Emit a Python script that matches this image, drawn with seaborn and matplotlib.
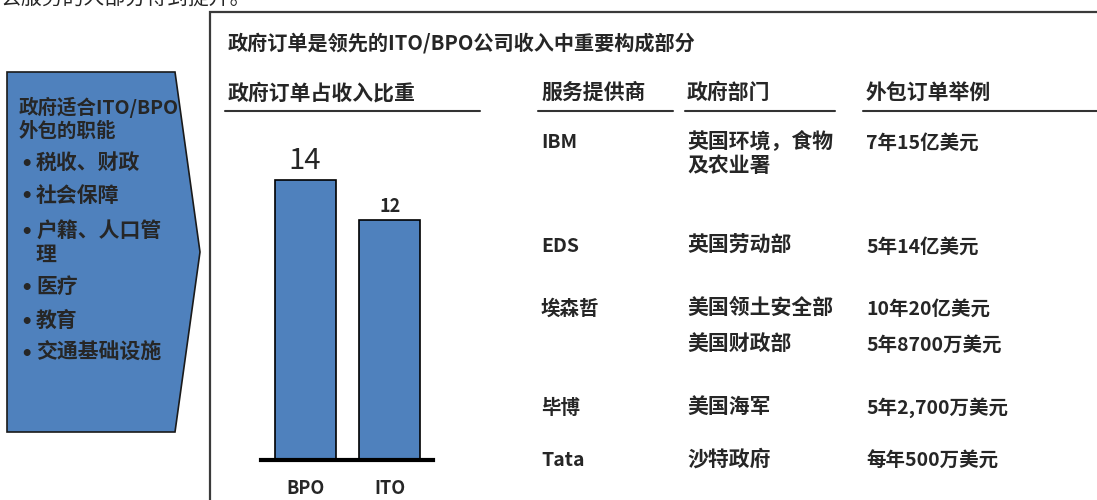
# -*- coding: utf-8 -*-
import numpy as np
import pandas as pd
import seaborn as sns
import matplotlib.pyplot as plt
from matplotlib.patches import Polygon

sns.set_style('white')
plt.rcParams['font.family'] = ['Noto Sans CJK SC', 'DejaVu Sans']

# data
categories = ['BPO', 'ITO']
share = [14, 12]

top_line = u'会服务的大部分得到提升。'
main_title = u'政府订单是领先的ITO/BPO公司收入中重要构成部分'
bar_title = u'政府订单占收入比重'
box_title = [u'政府适合ITO/BPO', u'外包的职能']
box_items = [u'税收、财政', u'社会保障', u'户籍、人口管\n理', u'医疗', u'教育', u'交通基础设施']

headers = [u'服务提供商', u'政府部门', u'外包订单举例']
providers = ['IBM', 'EDS', u'埃森哲', '', u'毕博', 'Tata']
depts = [u'英国环境，食物\n及农业署', u'英国劳动部', u'美国领土安全部', u'美国财政部', u'美国海军', u'沙特政府']
examples = [u'7年15亿美元', u'5年14亿美元', u'10年20亿美元', u'5年8700万美元', u'5年2,700万美元', u'每年500万美元']

blue = '#4F81BD'
dark = '#333333'

fig = plt.figure(figsize=(10.97, 5), dpi=100)

# background layer in pixel coords
bg = fig.add_axes([0, 0, 1, 1])
bg.set_xlim(0, 1097)
bg.set_ylim(500, 0)
bg.axis('off')

# line of the previous block, cut at the top edge as in the source slide
bg.text(0, -2, top_line, fontsize=15, va='center', ha='left', clip_on=False)

# left arrow box
pent = Polygon([(7, 72), (175, 72), (200, 252), (175, 432), (7, 432)],
               closed=True, facecolor=blue, edgecolor='#1a1a1a', lw=1.2)
bg.add_patch(pent)
bg.text(19, 107, box_title[0], fontsize=14, weight='bold', va='center')
bg.text(19, 131, box_title[1], fontsize=14, weight='bold', va='center')
item_y = [164, 197, 233, 288, 322, 354]
for y, item in zip(item_y, box_items):
    bg.text(20, y, u'•', fontsize=14, weight='bold', va='center', family='DejaVu Sans')
    bg.text(36, y - 12, item, fontsize=15, weight='bold', va='top', linespacing=1.1)

# right frame
bg.plot([210, 210, 1097], [500, 12, 12], color='#3a3a3a', lw=1.6, solid_joinstyle='miter')

bg.text(228, 43, main_title, fontsize=14.5, weight='bold', va='center')
bg.text(228, 93, bar_title, fontsize=15, weight='bold', va='center')
bg.plot([225, 480], [111, 111], color=dark, lw=1.5)

# table
col_x = [541, 687, 866]
line_span = [(538, 673), (685, 835), (863, 1097)]
for x, h, (a, b) in zip(col_x, headers, line_span):
    bg.text(x, 92, h, fontsize=15, weight='bold', va='center')
    bg.plot([a, b], [111, 111], color=dark, lw=1.5)

row_y = [143, 247, 309, 345, 408, 461]
for y, p, d, e in zip(row_y, providers, depts, examples):
    bg.text(col_x[0], y, p, fontsize=14, weight='bold', va='center')
    bg.text(col_x[1], y - 12, d, fontsize=15, weight='bold', va='top', linespacing=1.15)
    bg.text(col_x[2], y, e, fontsize=14, weight='bold', va='center')

# bar chart
ax = fig.add_axes([261 / 1097, 40 / 500, 172 / 1097, 320 / 500])
df = pd.DataFrame({'cat': categories, 'val': share})
sns.barplot(data=df, x='cat', y='val', color=blue, edgecolor='black',
            linewidth=1.2, width=0.72, saturation=1, ax=ax)
ax.set_ylim(0, 16)
ax.set_xlim(-0.52, 1.51)
ax.set_xlabel('')
ax.set_ylabel('')
ax.set_yticks([])
for s in ['top', 'left', 'right']:
    ax.spines[s].set_visible(False)
ax.spines['bottom'].set_color('black')
ax.spines['bottom'].set_linewidth(3)
ax.tick_params(axis='x', length=0, pad=14)
for lab in ax.get_xticklabels():
    lab.set_fontsize(13)
    lab.set_fontweight('bold')
ax.patch.set_alpha(0)

lab_size = [21, 13]
lab_weight = ['normal', 'bold']
for i, bar in enumerate(ax.patches):
    ax.annotate(str(share[i]), (bar.get_x() + bar.get_width() / 2, bar.get_height()),
                xytext=(0, 3), textcoords='offset points', ha='center', va='bottom',
                fontsize=lab_size[i], fontweight=lab_weight[i])

fig.savefig('out.png', dpi=100)
